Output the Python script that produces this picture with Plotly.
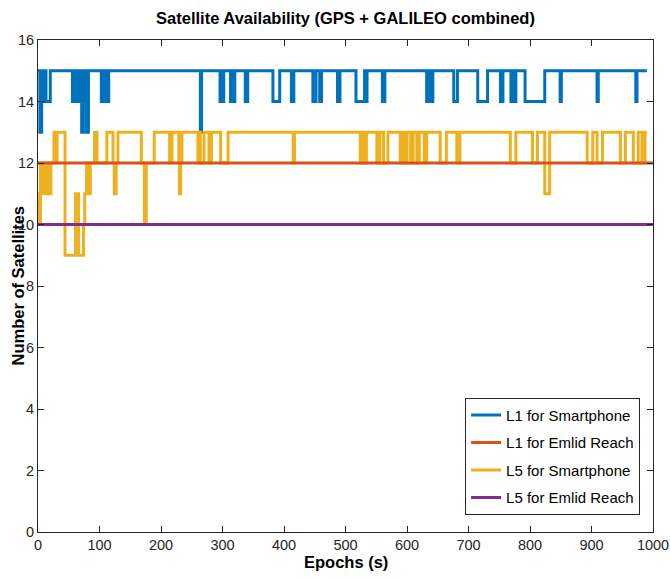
import plotly.graph_objects as go

# L1 for Smartphone (step change points: epoch, satellites)
l1_phone_t = [0, 3, 6, 9, 11, 13, 20,
              56, 58, 60, 62, 64, 67, 71, 73, 75, 78, 82,
              103, 106, 107, 110, 111, 115,
              264, 266,
              296, 298, 300, 302,
              313, 315, 317, 320,
              337, 341,
              382, 393,
              412, 416,
              447, 452, 458, 461,
              487, 491,
              517, 531, 533, 535,
              560, 564,
              632, 635, 638, 642,
              676, 682,
              715, 731,
              752, 756, 769, 772, 774, 777,
              792, 824,
              849, 851,
              909, 911,
              972, 974,
              990]
l1_phone_n = [15, 13, 15, 14, 15, 14, 15,
              14, 15, 14, 15, 14, 15, 13, 14, 15, 13, 15,
              14, 15, 14, 15, 14, 15,
              13, 15,
              14, 15, 14, 15,
              14, 15, 14, 15,
              14, 15,
              14, 15,
              14, 15,
              14, 15, 14, 15,
              14, 15,
              14, 15, 14, 15,
              14, 15,
              14, 15, 14, 15,
              14, 15,
              14, 15,
              14, 15, 14, 15, 14, 15,
              14, 15,
              14, 15,
              14, 15,
              14, 15,
              15]

# L5 for Smartphone
l5_phone_t = [0, 2, 4, 6, 8, 10, 14, 16, 21, 26, 29, 31, 44, 61, 66, 74, 76, 79, 80,
              83, 84, 85, 92, 96, 112, 122, 124, 127, 130, 168, 173, 176, 189, 214,
              218, 229, 230, 232, 234,
              260, 262, 264, 270, 278, 282, 297, 309, 415, 417,
              524, 527, 530, 534, 551, 556, 562, 569, 589, 593, 597, 600,
              606, 610, 616, 620, 628, 632, 654, 664, 681, 686,
              768, 777, 804, 812, 824, 832, 893, 902, 909, 918, 947, 955, 968, 976,
              982, 987, 990]
l5_phone_n = [11, 10, 12, 11, 12, 11, 12, 11, 12, 13, 12, 13, 9, 11, 9, 10, 11, 12, 11,
              12, 11, 12, 13, 12, 13, 12, 11, 12, 13, 12, 10, 12, 13, 12,
              13, 12, 11, 12, 13,
              12, 13, 12, 13, 12, 13, 12, 13, 12, 13,
              12, 13, 12, 13, 12, 13, 12, 13, 12, 13, 12, 13,
              12, 13, 12, 13, 12, 13, 12, 13, 12, 13,
              12, 13, 12, 13, 11, 13, 12, 13, 12, 13, 12, 13, 12, 13,
              12, 13, 13]

# Emlid Reach (constant)
emlid_t = [0, 1000]
l1_emlid_n = [12, 12]
l5_emlid_n = [10, 10]

x_ticks = [0, 100, 200, 300, 400, 500, 600, 700, 800, 900, 1000]
y_ticks = [0, 2, 4, 6, 8, 10, 12, 14, 16]

BLUE = "#0072BD"
RED = "#D95319"
YEL = "#EDB120"
PUR = "#7E2F8E"
AX = "#262626"
FONT = "Liberation Sans, Arial, sans-serif"

fig = go.Figure()
fig.add_trace(go.Scatter(x=l1_phone_t, y=l1_phone_n, mode="lines", line_shape="hv",
                         line=dict(color=BLUE, width=3), name="L1 for Smartphone",
                         legendrank=1, legendgroup="a"))
fig.add_trace(go.Scatter(x=l5_phone_t, y=l5_phone_n, mode="lines", line_shape="hv",
                         line=dict(color=YEL, width=3), name="L5 for Smartphone",
                         legendrank=3, legendgroup="c"))
fig.add_trace(go.Scatter(x=emlid_t, y=l1_emlid_n, mode="lines",
                         line=dict(color=RED, width=3), name="L1 for Emlid Reach",
                         legendrank=2, legendgroup="b"))
fig.add_trace(go.Scatter(x=emlid_t, y=l5_emlid_n, mode="lines",
                         line=dict(color=PUR, width=3), name="L5 for Emlid Reach",
                         legendrank=4, legendgroup="d"))

axis_common = dict(showgrid=False, zeroline=False, showline=True, linecolor=AX,
                   linewidth=1, mirror="ticks", ticks="inside", ticklen=6,
                   tickcolor=AX, tickfont=dict(family=FONT, size=14.5, color=AX),
                   automargin=False)

fig.update_layout(
    width=670, height=578,
    margin=dict(l=38, r=17, t=40, b=46),
    paper_bgcolor="white", plot_bgcolor="white",
    font=dict(family=FONT, color=AX),
    title=dict(text="<b>Satellite Availability (GPS + GALILEO combined)</b>",
               x=0.5, xref="paper", xanchor="center", y=1 - 18 / 578, yanchor="middle",
               font=dict(family=FONT, size=16.5, color="black")),
    xaxis=dict(range=[0, 1000], tickvals=x_ticks, ticktext=[str(v) for v in x_ticks],
               **axis_common),
    yaxis=dict(range=[0, 16], tickvals=y_ticks, ticktext=[str(v) for v in y_ticks],
               **axis_common),
    annotations=[
        dict(text="<b>Epochs (s)</b>", xref="paper", yref="paper", x=0.5,
             y=(532 - 562) / 492, xanchor="center", yanchor="middle", showarrow=False,
             font=dict(family=FONT, size=16.5, color="black")),
        dict(text="<b>Number of Satellites</b>", xref="paper", yref="paper",
             x=(17.5 - 38) / 615, y=0.5, xanchor="center", yanchor="middle",
             textangle=-90, showarrow=False,
             font=dict(family=FONT, size=16.5, color="black")),
    ],
    legend=dict(x=0.979, y=0.035, xanchor="right", yanchor="bottom",
                bgcolor="white", bordercolor=AX, borderwidth=1,
                font=dict(family=FONT, size=15, color="black"),
                tracegroupgap=5, itemwidth=30),
    showlegend=True,
)

fig.write_html("out.html")
